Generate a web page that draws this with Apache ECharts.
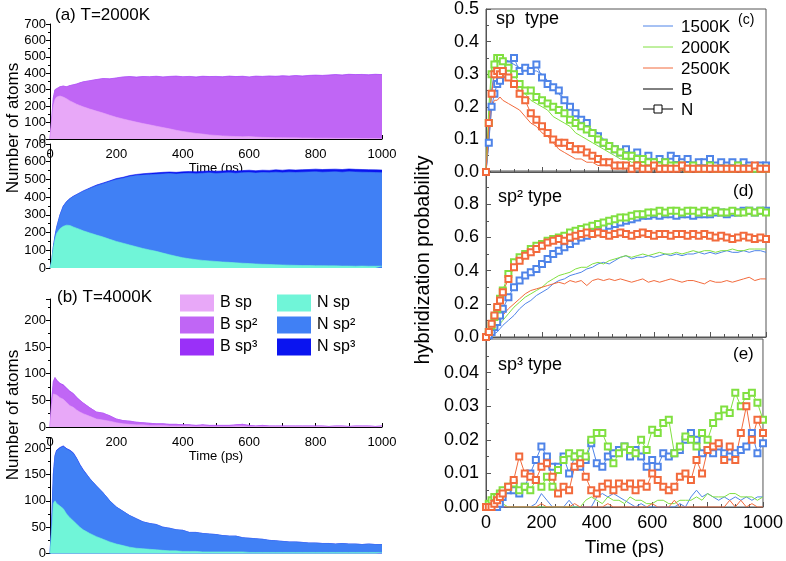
<!DOCTYPE html>
<html>
<head>
<meta charset="utf-8">
<script src="https://cdn.jsdelivr.net/npm/echarts@6/dist/echarts.min.js"></script>
<style>html,body{margin:0;background:#fff}#chart{width:786px;height:561px}</style>
</head>
<body>
<div id="chart"></div>
<script>
// ---------- left panels: atom counts (stacked areas) ----------
var timeL = [0,5,10,15,20,30,40,50,60,70,80,90,100,120,140,160,180,200,220,240,260,280,300,320,340,360,380,400,420,440,460,480,500,520,540,560,580,600,620,640,660,680,700,720,740,760,780,800,820,840,860,880,900,920,940,960,980,1000];

// T = 2000K, boron
var bSp_2000 = [0,110,200,240,255,262,255,245,232,222,212,204,196,182,170,158,145,132,122,112,103,94,86,78,70,62,53,46,40,34,30,25,22,19,17,15,14,15,12,10,9,8,8,7,7,6,6,5,5,5,4,4,4,4,3,3,3,3];
var bSp2_2000 = [0,10,50,60,57,56,67,73,93,107,122,137,151,172,191,209,219,238,254,266,272,284,291,302,306,316,328,331,339,341,349,353,356,357,364,362,365,361,368,368,372,371,374,373,376,375,378,381,379,382,385,383,387,385,387,385,388,386];
var bSp3_2000 = [0,0,0,0,0,0,0,0,0,1,1,1,1,1,1,1,2,2,2,2,2,2,2,2,2,3,2,2,2,3,3,2,3,3,2,3,3,2,3,3,3,3,3,3,3,3,3,3,3,3,3,3,3,3,3,3,3,3];
// T = 2000K, nitrogen
var nSp_2000 = [0,40,110,160,195,222,235,242,240,232,225,218,210,198,186,175,162,150,140,130,120,110,102,94,84,75,66,58,52,47,43,40,37,34,32,29,27,25,23,21,20,18,17,16,15,14,14,13,13,12,12,11,11,10,11,10,10,10];
var nSp2_2000 = [0,0,10,20,35,77,114,132,151,171,188,205,223,251,279,301,326,350,367,386,402,415,425,435,447,458,464,475,483,485,492,497,497,502,506,506,511,514,513,518,518,523,521,525,524,527,528,530,528,530,531,530,533,532,530,530,529,528];
var nSp3_2000 = [0,0,0,0,0,1,1,1,1,2,2,2,2,3,3,4,4,5,5,6,6,7,8,8,9,9,10,10,10,11,11,11,12,12,12,12,12,13,13,13,13,13,14,14,14,14,14,15,15,15,15,15,15,15,15,15,15,15];
// T = 4000K, boron
var bSp_4000 = [0,40,62,65,60,55,52,46,40,37,32,28,25,20,15,13,11,8,6,5,4,4,3,3,3,2,2,2,2,1,2,1,1,1,1,2,2,1,1,1,1,1,1,1,1,1,1,1,1,0,1,1,0,1,1,1,0,1];
var bSp2_4000 = [0,10,23,27,27,26,26,26,26,25,23,22,20,16,13,13,10,7,6,6,5,4,4,3,3,3,3,2,2,2,2,2,2,2,2,2,3,2,1,2,1,1,1,1,1,1,1,1,1,1,1,1,1,1,1,1,1,1];
var bSp3_4000 = [0,0,0,1,1,1,1,1,1,1,1,0,0,0,0,0,0,0,0,0,0,0,0,0,0,0,0,0,0,0,0,0,0,0,0,0,0,0,0,0,0,0,0,0,0,0,0,0,0,0,0,0,0,0,0,0,0,0];
// T = 4000K, nitrogen
var nSp_4000 = [0,40,95,100,95,90,85,75,68,62,56,50,45,38,32,27,22,18,15,12,10,9,8,7,6,5,5,4,4,4,3,3,3,3,3,3,3,2,2,2,2,2,2,2,2,2,2,2,2,2,2,2,2,2,2,2,2,2];
var nSp2_4000 = [0,20,55,85,100,110,118,123,127,128,124,118,113,104,96,88,78,70,65,60,56,51,49,48,44,43,40,40,36,36,35,34,33,31,30,30,27,27,26,25,23,22,21,20,20,19,18,18,17,17,16,17,16,16,15,16,15,15];
var nSp3_4000 = [0,0,1,1,1,1,1,1,1,1,1,1,1,0,0,0,0,0,0,0,0,0,0,0,0,0,0,0,0,0,0,0,0,0,0,0,0,0,0,0,0,0,0,0,0,0,0,0,0,0,0,0,0,0,0,0,0,0];

// ---------- right panels: hybridization probability ----------
var timeR = [0,10,20,30,40,50,60,80,100,120,140,160,180,200,220,240,260,280,300,320,340,360,380,400,420,440,460,480,500,520,540,560,580,600,620,640,660,680,700,720,740,760,780,800,820,840,860,880,900,920,940,960,980,1000];

// (c) sp
var spB1500 = [0,0.1,0.25,0.31,0.33,0.35,0.35,0.34,0.33,0.32,0.32,0.31,0.31,0.3,0.28,0.26,0.24,0.22,0.2,0.18,0.16,0.14,0.13,0.12,0.1,0.08,0.07,0.06,0.06,0.05,0.04,0.04,0.03,0.03,0.03,0.02,0.02,0.02,0.02,0.02,0.01,0.01,0.01,0.01,0.01,0.01,0.01,0.01,0.01,0.01,0.01,0.01,0.01,0.01];
var spN1500 = [0,0.09,0.2,0.24,0.27,0.28,0.3,0.33,0.35,0.31,0.32,0.31,0.33,0.29,0.27,0.26,0.25,0.22,0.2,0.18,0.16,0.15,0.12,0.11,0.09,0.08,0.07,0.06,0.07,0.05,0.06,0.04,0.05,0.03,0.04,0.03,0.05,0.04,0.03,0.04,0.02,0.03,0.03,0.04,0.02,0.03,0.02,0.03,0.02,0.03,0.02,0.01,0.02,0.02];
var spB2000 = [0,0.2,0.32,0.33,0.32,0.31,0.3,0.29,0.27,0.25,0.24,0.22,0.21,0.2,0.19,0.17,0.16,0.15,0.14,0.12,0.11,0.1,0.09,0.08,0.07,0.06,0.05,0.04,0.04,0.03,0.03,0.02,0.02,0.02,0.01,0.01,0.02,0.01,0.01,0.01,0.01,0.01,0.01,0.01,0.01,0.01,0.01,0.01,0.01,0.01,0.01,0.01,0.01,0.01];
var spN2000 = [0,0.15,0.3,0.33,0.35,0.35,0.34,0.32,0.3,0.27,0.25,0.25,0.23,0.22,0.21,0.2,0.19,0.18,0.16,0.15,0.14,0.13,0.12,0.1,0.09,0.08,0.07,0.06,0.05,0.05,0.04,0.04,0.03,0.03,0.02,0.03,0.02,0.02,0.02,0.01,0.02,0.01,0.01,0.02,0.01,0.01,0.01,0.01,0.02,0.01,0.01,0.01,0.01,0.01];
var spB2500 = [0,0.1,0.2,0.22,0.22,0.23,0.22,0.21,0.2,0.19,0.17,0.15,0.14,0.12,0.11,0.09,0.07,0.06,0.05,0.04,0.04,0.03,0.03,0.02,0.02,0.02,0.01,0.01,0.01,0.01,0.01,0.01,0.005,0.01,0.005,0.005,0.01,0.005,0.005,0.005,0.005,0.005,0.005,0.005,0.005,0.005,0.005,0.005,0.005,0.005,0.005,0.005,0.005,0.005];
var spN2500 = [0,0.15,0.24,0.3,0.31,0.3,0.31,0.29,0.27,0.24,0.22,0.18,0.16,0.14,0.12,0.1,0.09,0.09,0.08,0.07,0.07,0.06,0.05,0.04,0.03,0.03,0.02,0.02,0.02,0.01,0.02,0.01,0.01,0.02,0.01,0.01,0.01,0.01,0.02,0.01,0.01,0.01,0.01,0.01,0.01,0.01,0.01,0.01,0.01,0.01,0.01,0.02,0.01,0.01];

// (d) sp2
var sp2B1500 = [0,0.005,0.01,0.02,0.03,0.05,0.07,0.1,0.13,0.17,0.2,0.22,0.25,0.27,0.29,0.32,0.34,0.35,0.37,0.38,0.39,0.41,0.42,0.44,0.45,0.44,0.46,0.48,0.49,0.47,0.48,0.48,0.49,0.48,0.49,0.5,0.49,0.5,0.49,0.5,0.5,0.51,0.5,0.51,0.5,0.51,0.52,0.51,0.51,0.52,0.51,0.52,0.52,0.51];
var sp2N1500 = [0,0.01,0.03,0.06,0.09,0.13,0.17,0.24,0.3,0.34,0.37,0.39,0.41,0.44,0.47,0.5,0.52,0.54,0.56,0.58,0.6,0.61,0.63,0.64,0.66,0.67,0.68,0.69,0.7,0.71,0.72,0.73,0.73,0.74,0.73,0.74,0.74,0.73,0.74,0.74,0.73,0.74,0.74,0.74,0.75,0.75,0.74,0.75,0.75,0.76,0.76,0.75,0.76,0.76];
var sp2B2000 = [0,0.01,0.02,0.04,0.06,0.08,0.1,0.14,0.18,0.21,0.24,0.26,0.28,0.3,0.33,0.35,0.37,0.38,0.39,0.41,0.42,0.42,0.44,0.45,0.44,0.46,0.47,0.48,0.49,0.48,0.49,0.5,0.49,0.5,0.51,0.5,0.5,0.51,0.5,0.51,0.52,0.51,0.52,0.52,0.51,0.52,0.52,0.53,0.52,0.52,0.53,0.53,0.53,0.53];
var sp2N2000 = [0,0.03,0.07,0.12,0.17,0.23,0.28,0.38,0.45,0.48,0.5,0.53,0.55,0.56,0.58,0.59,0.6,0.61,0.63,0.64,0.65,0.66,0.67,0.68,0.69,0.7,0.71,0.72,0.72,0.73,0.74,0.74,0.75,0.75,0.76,0.75,0.76,0.76,0.75,0.76,0.76,0.75,0.76,0.75,0.76,0.75,0.75,0.76,0.75,0.75,0.76,0.75,0.76,0.75];
var sp2B2500 = [0,0.01,0.03,0.05,0.08,0.1,0.13,0.17,0.2,0.23,0.26,0.28,0.29,0.3,0.31,0.32,0.33,0.32,0.34,0.33,0.34,0.31,0.34,0.35,0.34,0.35,0.34,0.35,0.34,0.33,0.34,0.35,0.33,0.34,0.33,0.34,0.35,0.34,0.33,0.34,0.34,0.33,0.32,0.34,0.33,0.33,0.34,0.33,0.34,0.35,0.36,0.34,0.35,0.35];
var sp2N2500 = [0,0.03,0.08,0.13,0.18,0.22,0.27,0.35,0.42,0.46,0.49,0.51,0.53,0.55,0.57,0.58,0.59,0.58,0.6,0.61,0.62,0.63,0.62,0.63,0.62,0.61,0.62,0.63,0.62,0.61,0.62,0.63,0.62,0.61,0.62,0.62,0.61,0.62,0.62,0.61,0.62,0.61,0.62,0.61,0.6,0.61,0.6,0.59,0.6,0.61,0.6,0.59,0.6,0.59];

// (e) sp3
var sp3B1500 = [0,0,0,0,0,0,0,0,0,0,0,0,0.001,0.004,0.002,0,0,0,0.002,0,0,0,0,0.003,0.004,0.003,0.004,0.003,0.002,0.001,0,0.001,0,0,0,0,0,0,0.001,0,0.003,0.005,0.003,0.004,0.003,0.002,0.003,0.002,0.003,0.002,0.003,0.002,0.003,0.003];
var sp3N1500 = [0,0,0,0,0,0.001,0.003,0.005,0.005,0.004,0.006,0.01,0.014,0.018,0.015,0.012,0.012,0.015,0.01,0.015,0.012,0.014,0.019,0.013,0.012,0.015,0.016,0.017,0.018,0.015,0.017,0.015,0.012,0.014,0.012,0.016,0.015,0.016,0.017,0.02,0.022,0.02,0.016,0.017,0.016,0.018,0.016,0.015,0.016,0.017,0.018,0.022,0.016,0.019];
var sp3B2000 = [0,0,0,0,0,0,0.001,0,0,0,0,0,0,0,0,0,0,0,0,0,0,0.002,0.003,0.002,0.001,0.003,0.002,0.002,0.001,0.003,0.002,0.002,0.001,0.001,0.002,0.002,0.001,0.001,0.002,0.002,0.002,0.003,0.002,0.004,0.003,0.003,0.003,0.004,0.004,0.003,0.003,0.003,0.002,0.003];
var sp3N2000 = [0,0.001,0.002,0.003,0.003,0.004,0.005,0.006,0.007,0.005,0.006,0.005,0.008,0.006,0.009,0.006,0.011,0.014,0.016,0.015,0.016,0.015,0.02,0.022,0.022,0.018,0.013,0.016,0.018,0.017,0.016,0.02,0.017,0.023,0.022,0.025,0.026,0.016,0.018,0.021,0.02,0.018,0.022,0.02,0.025,0.027,0.029,0.028,0.034,0.03,0.033,0.034,0.031,0.026];
var sp3B2500 = [0,0,0,0,0,0,0,0,0,0,0,0,0,0.001,0,0,0,0,0,0.001,0,0,0,0,0,0.001,0,0,0,0,0,0,0,0.001,0,0,0,0.002,0,0,0,0,0,0,0,0,0,0.002,0,0.002,0,0.001,0,0];
var sp3N2500 = [0,0,0,0.001,0.002,0.003,0.004,0.006,0.008,0.015,0.01,0.009,0.008,0.012,0.013,0.009,0.004,0.006,0.005,0.012,0.013,0.009,0.005,0.004,0.006,0.007,0.005,0.007,0.006,0.007,0.005,0.007,0.006,0.01,0.008,0.006,0.005,0.006,0.009,0.01,0.008,0.014,0.01,0.017,0.018,0.019,0.014,0.018,0.014,0.022,0.03,0.02,0.026,0.022];

// ---------- styling ----------
var FONT = 'Liberation Sans, Arial, sans-serif';
var cBsp = '#e8a8f8', cBsp2 = '#c066f5', cBsp3 = '#9a30f8';
var cNsp = '#70f5d8', cNsp2 = '#4080f5', cNsp3 = '#0a14f0';
var c1500 = '#4f84e8', c2000 = '#80e040', c2500 = '#f26a3c';

function pairs(ts, vs) {
  return ts.map(function (t, i) { return [t, vs[i]]; });
}
function addUp(a, b, c) {
  return a.map(function (v, i) { return v + (b ? b[i] : 0) + (c ? c[i] : 0); });
}
function plain(v) { return String(v); }

function leftX(grid, show) {
  return {
    type: 'value', gridIndex: grid, min: 0, max: 1000, interval: 200, show: show,
    axisLine: { show: true, onZero: false, lineStyle: { color: '#000' } },
    axisTick: { inside: true, length: 4, lineStyle: { color: '#000' } },
    minorTick: { show: true, splitNumber: 2, length: 4, lineStyle: { color: '#000' } },
    axisLabel: { fontSize: 13, margin: 9, color: '#000', fontFamily: FONT, formatter: plain },
    splitLine: { show: false },
    name: 'Time (ps)', nameLocation: 'middle', nameGap: 19,
    nameTextStyle: { fontSize: 13, color: '#000', fontFamily: FONT }
  };
}
function leftY(grid, max, interval, showMax) {
  return {
    type: 'value', gridIndex: grid, min: 0, max: max, interval: interval,
    axisLine: { show: true, lineStyle: { color: '#000' } },
    axisTick: { show: true, length: 4, lineStyle: { color: '#000' } },
    minorTick: { show: true, splitNumber: 2, length: 2, lineStyle: { color: '#000' } },
    axisLabel: { fontSize: 13, margin: 4, color: '#000', fontFamily: FONT, showMaxLabel: showMax },
    splitLine: { show: false }
  };
}
function rightX(grid, labels) {
  var ax = {
    type: 'value', gridIndex: grid, min: 0, max: 1000, interval: 200,
    axisLine: { show: true, onZero: false, lineStyle: { color: '#555' } },
    axisTick: { inside: true, length: 5, lineStyle: { color: '#555' } },
    minorTick: { show: true, splitNumber: 4, length: 3, lineStyle: { color: '#555' } },
    axisLabel: { show: labels, fontSize: 18, margin: 7, color: '#000', fontFamily: FONT, formatter: plain },
    splitLine: { show: false }
  };
  if (labels) {
    ax.name = 'Time (ps)';
    ax.nameLocation = 'middle';
    ax.nameGap = 31;
    ax.nameTextStyle = { fontSize: 19, color: '#000', fontFamily: FONT };
  }
  return ax;
}
function rightY(grid, max, interval, digits, showMax) {
  return {
    type: 'value', gridIndex: grid, min: 0, max: max, interval: interval,
    axisLine: { show: true, lineStyle: { color: '#555' } },
    axisTick: { inside: true, length: 5, lineStyle: { color: '#555' } },
    minorTick: { show: true, splitNumber: 2, length: 3, lineStyle: { color: '#555' } },
    axisLabel: {
      fontSize: 18, margin: 7, color: '#000', fontFamily: FONT, showMaxLabel: showMax,
      formatter: function (v) { return v.toFixed(digits); }
    },
    splitLine: { show: false }
  };
}

function area(axis, vals, color, z) {
  return {
    type: 'line', xAxisIndex: axis, yAxisIndex: axis, data: pairs(timeL, vals),
    symbol: 'none', z: z, silent: true,
    lineStyle: { width: 0.6, color: color }, itemStyle: { color: color },
    areaStyle: { color: color, opacity: 1 }
  };
}
function stackPanel(axis, sp, sp2, sp3, c1, c2, c3) {
  return [
    area(axis, addUp(sp, sp2, sp3), c3, 2),
    area(axis, addUp(sp, sp2), c2, 3),
    area(axis, sp, c1, 4)
  ];
}
function bLine(axis, vals, color) {
  return {
    type: 'line', xAxisIndex: axis, yAxisIndex: axis, data: pairs(timeR, vals),
    symbol: 'none', z: 3, lineStyle: { width: 1, color: color }, itemStyle: { color: color }
  };
}
function nLine(axis, vals, color) {
  return {
    type: 'line', xAxisIndex: axis, yAxisIndex: axis, data: pairs(timeR, vals),
    symbol: 'emptyRect', symbolSize: 6, z: 4,
    lineStyle: { width: 1, color: color }, itemStyle: { color: color, borderWidth: 1 }
  };
}

function txt(x, y, s, size, opt) {
  var o = {
    type: 'text', x: x, y: y, z: 100,
    style: { text: s, fontSize: size, fontFamily: FONT, fill: '#000', verticalAlign: 'middle', align: 'left' }
  };
  if (opt) {
    if (opt.rotation) o.rotation = opt.rotation;
    if (opt.align) o.style.align = opt.align;
  }
  return o;
}

var graphics = [
  txt(55, 15, '(a) T=2000K', 17),
  txt(57, 297, '(b) T=4000K', 17),
  txt(13, 128, 'Number of atoms', 17, { rotation: Math.PI / 2, align: 'center' }),
  txt(13, 415, 'Number of atoms', 17, { rotation: Math.PI / 2, align: 'center' }),
  txt(423, 260, 'hybridization probability', 20, { rotation: Math.PI / 2, align: 'center' }),
  txt(496, 19, 'sp  type', 18),
  txt(498, 197, 'sp² type', 18),
  txt(498, 365, 'sp³ type', 18),
  txt(738, 20, '(c)', 14),
  txt(733, 191, '(d)', 17),
  txt(733, 354, '(e)', 17)
];

// left legend
var legL = [
  [180, cBsp, 'B sp'], [180, cBsp2, 'B sp²'], [180, cBsp3, 'B sp³'],
  [277, cNsp, 'N sp'], [277, cNsp2, 'N sp²'], [277, cNsp3, 'N sp³']
];
legL.forEach(function (d, i) {
  var row = i % 3;
  var cy = 303 + row * 22;
  graphics.push({ type: 'rect', z: 100, shape: { x: d[0], y: cy - 8.5, width: 34, height: 17 }, style: { fill: d[1] } });
  graphics.push(txt(d[0] + 40, cy, d[2], 16));
});

// right legend
var legR = [[c1500, '1500K', 27], [c2000, '2000K', 48], [c2500, '2500K', 69], ['#000', 'B', 90], ['#000', 'N', 110]];
legR.forEach(function (d) {
  graphics.push({ type: 'line', z: 100, shape: { x1: 643, y1: d[2] - 1, x2: 673, y2: d[2] - 1 }, style: { stroke: d[0], lineWidth: 1 } });
  graphics.push(txt(681, d[2], d[1], 17));
});
graphics.push({ type: 'rect', z: 101, shape: { x: 654, y: 105, width: 8, height: 8 }, style: { fill: '#fff', stroke: '#000', lineWidth: 1 } });

var frame = { show: true, borderColor: '#555', borderWidth: 1, backgroundColor: 'transparent' };

var option = {
  animation: false,
  textStyle: { fontFamily: FONT },
  grid: [
    { left: 50, top: 24, width: 332, height: 115 },
    { left: 50, top: 144, width: 332, height: 124 },
    { left: 50, top: 299, width: 332, height: 128 },
    { left: 50, top: 437.5, width: 332, height: 116 },
    Object.assign({ left: 486, top: 9, width: 280, height: 163 }, frame),
    Object.assign({ left: 486, top: 171, width: 280, height: 166 }, frame),
    Object.assign({ left: 486, top: 339, width: 280, height: 168 }, frame)
  ],
  xAxis: [
    leftX(0, true), leftX(1, false), leftX(2, true), leftX(3, false),
    rightX(4, false), rightX(5, false), rightX(6, true)
  ],
  yAxis: [
    leftY(0, 700, 100, true), leftY(1, 700, 100, true),
    leftY(2, 240, 50, false), leftY(3, 220, 50, false),
    rightY(4, 0.5, 0.1, 1, true), rightY(5, 1, 0.2, 1, false), rightY(6, 0.05, 0.01, 2, false)
  ],
  graphic: graphics,
  series: [].concat(
    stackPanel(0, bSp_2000, bSp2_2000, bSp3_2000, cBsp, cBsp2, cBsp3),
    stackPanel(1, nSp_2000, nSp2_2000, nSp3_2000, cNsp, cNsp2, cNsp3),
    stackPanel(2, bSp_4000, bSp2_4000, bSp3_4000, cBsp, cBsp2, cBsp3),
    stackPanel(3, nSp_4000, nSp2_4000, nSp3_4000, cNsp, cNsp2, cNsp3),
    [
      bLine(4, spB1500, c1500), bLine(4, spB2000, c2000), bLine(4, spB2500, c2500),
      nLine(4, spN1500, c1500), nLine(4, spN2000, c2000), nLine(4, spN2500, c2500),
      bLine(5, sp2B1500, c1500), bLine(5, sp2B2000, c2000), bLine(5, sp2B2500, c2500),
      nLine(5, sp2N1500, c1500), nLine(5, sp2N2000, c2000), nLine(5, sp2N2500, c2500),
      bLine(6, sp3B1500, c1500), bLine(6, sp3B2000, c2000), bLine(6, sp3B2500, c2500),
      nLine(6, sp3N1500, c1500), nLine(6, sp3N2000, c2000), nLine(6, sp3N2500, c2500)
    ]
  )
};

var myChart = echarts.init(document.getElementById('chart'));
myChart.setOption(option);
</script>
</body>
</html>
